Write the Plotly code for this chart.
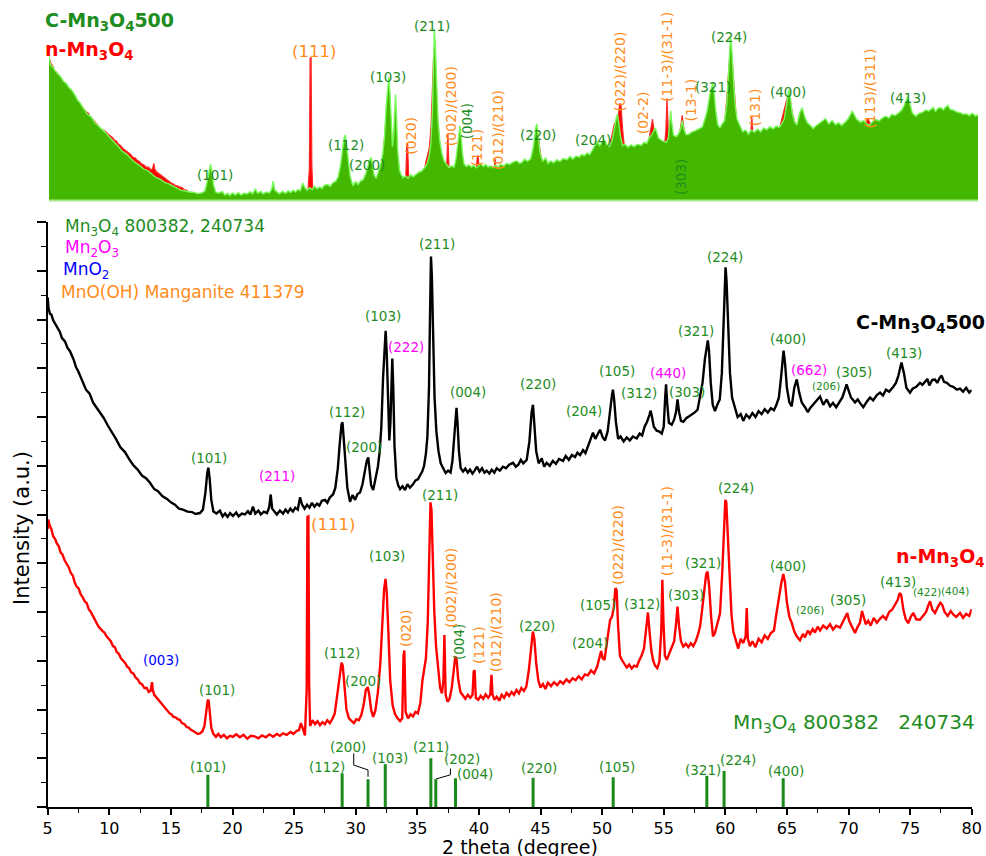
import plotly.graph_objects as go

# ---------------- data ----------------
# n-Mn3O4 pattern (main-plot intensity units)
n_x = [5.00,5.05,5.15,5.30,5.45,5.60,5.73,5.90,6.05,6.20,6.37,6.54,6.70,6.88,7.05,7.20,7.35,7.52,7.68,7.85,8.00,8.17,8.33,8.50,8.65,8.82,8.98,9.12,
       9.42,9.60,9.78,9.95,10.12,10.30,10.45,10.60,10.78,10.95,11.12,11.30,11.45,11.60,11.78,11.95,12.12,12.30,12.48,12.65,12.85,13.04,13.20,13.35,13.47,13.53,13.65,13.85,14.02,14.20,14.38,14.55,14.72,14.90,15.05,15.20,15.38,15.55,15.72,15.90,16.10,16.28,16.45,16.65,16.82,17.00,17.18,17.36,
       17.55,17.72,17.88,17.98,18.06,18.16,18.28,18.45,18.65,18.85,19.05,19.30,19.55,19.80,20.04,20.30,20.60,20.90,21.20,21.50,21.80,22.10,22.40,22.70,23.00,23.30,23.60,23.85,24.10,24.40,24.70,24.95,25.20,25.40,25.55,25.70,25.88,
       26.02,26.08,26.16,26.22,26.30,26.50,26.70,26.90,27.10,27.30,27.50,27.70,27.90,28.10,28.30,28.50,28.70,28.85,28.95,29.08,29.25,29.45,29.65,29.85,30.05,30.25,30.45,30.65,30.82,30.98,31.10,31.25,31.42,31.60,31.80,
       32.00,32.15,32.30,32.42,32.52,32.65,32.80,33.00,33.20,33.40,33.60,33.78,33.88,33.95,34.05,34.25,34.45,34.65,34.85,35.05,35.25,35.42,35.55,35.70,35.85,35.97,36.07,36.15,36.25,36.38,36.52,36.68,36.85,37.00,37.12,37.20,37.30,37.45,
       37.62,37.80,37.95,38.08,38.18,38.32,38.50,38.70,38.90,39.10,39.30,39.48,39.58,39.65,39.75,39.95,40.15,40.35,40.55,40.75,40.92,41.02,41.10,41.25,41.45,41.65,41.85,42.05,42.25,42.45,42.65,42.85,43.05,43.25,43.45,43.65,43.85,
       44.05,44.22,44.38,44.50,44.65,44.82,45.00,45.20,45.40,45.60,45.85,46.10,46.35,46.60,46.85,47.10,47.35,47.60,47.85,48.10,48.35,48.60,48.85,49.10,49.35,49.60,49.80,49.92,50.05,50.20,50.35,50.50,50.65,50.80,50.95,51.08,51.18,51.30,51.45,51.60,
       51.80,52.00,52.20,52.40,52.60,52.81,53.00,53.20,53.40,53.58,53.72,53.85,54.00,54.15,54.30,54.48,54.65,54.80,54.89,54.98,55.10,55.25,55.45,55.65,55.85,56.00,56.12,56.25,56.40,56.59,56.80,57.00,57.20,57.40,57.60,57.80,57.95,
       58.11,58.30,58.45,58.56,58.70,58.85,59.00,59.16,59.35,59.57,59.75,59.90,60.00,60.08,60.20,60.35,60.50,60.65,60.85,61.05,61.25,61.46,61.65,61.74,61.83,62.00,62.20,62.45,62.70,62.95,63.20,63.45,63.70,63.95,64.15,64.35,64.55,64.71,64.85,65.00,65.20,65.39,
       65.60,65.80,66.06,66.30,66.47,66.70,66.88,67.10,67.28,67.50,67.69,67.95,68.23,68.50,68.74,69.00,69.31,69.55,69.75,69.90,70.05,70.25,70.53,70.75,70.93,71.10,71.22,71.40,71.60,71.80,72.05,72.30,72.56,72.80,73.04,73.30,73.55,73.80,74.00,74.15,74.28,74.45,74.65,74.85,75.05,75.26,75.50,75.80,76.05,76.30,76.50,76.62,76.80,77.02,77.25,77.45,77.60,77.80,78.05,78.30,78.50,78.75,79.05,79.30,79.55,79.80,80.00]
n_y = [5.70,5.90,5.78,5.70,5.55,5.50,5.41,5.35,5.22,5.18,5.06,5.00,4.92,4.80,4.74,4.60,4.52,4.48,4.36,4.30,4.22,4.18,4.06,4.00,3.92,3.85,3.77,3.70,
       3.62,3.58,3.50,3.45,3.40,3.30,3.28,3.18,3.14,3.05,3.00,2.95,2.88,2.85,2.76,2.74,2.66,2.62,2.54,2.52,2.44,2.44,2.36,2.38,2.56,2.40,2.30,2.24,2.18,2.12,2.08,2.02,1.98,1.92,1.90,1.85,1.84,1.80,1.79,1.72,1.70,1.64,1.63,1.58,1.56,1.52,1.50,1.51,
       1.55,1.66,1.95,2.18,2.20,1.92,1.62,1.50,1.44,1.50,1.43,1.48,1.41,1.46,1.44,1.49,1.43,1.48,1.40,1.46,1.45,1.41,1.47,1.43,1.49,1.44,1.50,1.46,1.51,1.48,1.54,1.50,1.56,1.58,1.72,1.62,1.47,
       2.40,5.95,5.96,2.50,1.66,1.78,1.70,1.76,1.68,1.74,1.70,1.78,1.72,1.80,1.92,2.30,2.75,2.96,2.90,2.45,2.00,1.82,1.76,1.72,1.80,1.78,1.88,2.10,2.40,2.46,2.30,2.00,1.85,1.98,2.35,
       2.95,3.70,4.45,4.68,4.40,3.60,2.60,2.08,1.90,1.82,1.76,1.82,3.10,3.21,1.95,1.82,1.90,1.86,1.95,1.92,2.14,2.60,2.82,3.05,3.80,5.20,6.25,6.10,5.20,4.00,3.30,2.80,2.45,2.33,2.60,3.53,2.30,2.16,
       2.22,2.45,2.80,3.08,3.05,2.62,2.36,2.28,2.22,2.30,2.24,2.30,2.78,2.81,2.24,2.20,2.28,2.22,2.31,2.24,2.30,2.71,2.32,2.20,2.26,2.18,2.30,2.24,2.34,2.28,2.36,2.30,2.40,2.33,2.44,2.38,2.47,
       2.80,3.30,3.60,3.45,2.95,2.60,2.45,2.52,2.42,2.55,2.48,2.56,2.50,2.58,2.53,2.62,2.56,2.64,2.60,2.68,2.62,2.72,2.70,2.80,2.74,2.88,3.10,3.20,3.05,3.02,3.30,3.60,3.84,3.90,4.10,4.49,4.45,3.70,3.10,3.02,
       2.95,2.86,2.92,2.84,2.90,2.88,3.00,3.10,3.25,3.70,3.99,3.60,3.20,3.00,2.90,2.85,2.98,3.60,4.66,3.80,3.10,3.02,3.15,3.25,3.40,3.75,4.11,3.70,3.40,3.29,3.35,3.28,3.36,3.30,3.40,3.55,3.70,
       4.03,4.50,4.78,4.83,4.50,3.90,3.50,3.57,3.75,3.97,4.80,5.90,6.30,6.25,5.60,4.70,3.95,3.60,3.40,3.25,3.45,3.36,3.50,4.08,3.45,3.30,3.40,3.28,3.45,3.38,3.52,3.45,3.57,3.62,3.97,4.30,4.60,4.78,4.60,4.20,3.90,3.78,
       3.60,3.50,3.42,3.55,3.48,3.62,3.55,3.65,3.58,3.70,3.62,3.72,3.66,3.75,3.64,3.72,3.68,3.80,3.92,3.98,3.82,3.70,3.57,3.70,3.78,4.02,3.92,3.75,3.82,3.72,3.88,3.78,3.86,3.92,3.85,4.00,4.05,4.15,4.25,4.39,4.35,4.05,3.85,3.77,3.90,3.98,3.85,3.84,3.92,4.00,4.15,4.22,4.05,3.98,4.10,4.19,4.15,4.00,3.92,4.02,3.95,3.90,3.98,3.88,3.96,3.92,4.06]

# C-Mn3O4500 pattern, as stacked in the main plot (intensity + STACK_OFFSET)
STACK_OFFSET = 4.42
c_x = [5.00,5.06,5.18,5.30,5.45,5.59,5.80,5.98,6.16,6.40,6.60,6.81,7.10,7.30,7.46,7.75,7.95,8.11,8.40,8.55,8.68,9.00,9.25,9.55,9.89,10.20,10.54,10.90,11.27,11.60,11.92,12.30,12.65,13.00,13.30,13.65,13.95,14.30,14.68,15.00,15.33,15.65,15.98,16.35,16.71,17.00,17.36,
       17.60,17.80,17.95,18.04,18.14,18.28,18.45,18.70,18.98,19.20,19.40,19.60,19.80,20.04,20.30,20.50,20.75,21.01,21.25,21.45,21.66,21.85,22.10,22.30,22.55,22.80,22.98,23.10,23.22,23.40,23.60,23.85,24.10,24.30,24.50,24.70,24.90,25.10,25.30,25.48,25.65,25.85,26.05,26.25,26.45,26.65,26.86,27.05,27.25,27.51,27.70,27.90,28.16,
       28.35,28.55,28.72,28.85,28.93,29.02,29.15,29.32,29.54,29.75,29.95,30.15,30.35,30.55,30.75,30.90,31.02,31.12,31.25,31.42,31.60,31.80,31.95,32.08,32.22,32.35,32.43,32.52,32.63,32.73,32.82,32.90,32.97,33.05,33.15,33.30,33.45,33.60,
       33.80,34.00,34.20,34.40,34.65,34.85,35.05,35.22,35.40,35.55,35.70,35.82,35.95,36.04,36.11,36.18,36.28,36.40,36.55,36.72,36.90,37.10,37.30,37.50,37.70,37.85,37.98,38.10,38.18,38.26,38.38,38.52,38.71,38.90,39.10,39.28,39.48,39.65,39.85,40.05,40.25,40.45,40.63,40.85,41.04,41.25,41.45,41.70,41.95,
       42.20,42.45,42.77,43.00,43.20,43.40,43.60,43.88,44.10,44.28,44.39,44.50,44.65,44.85,45.10,45.30,45.50,45.75,46.00,46.25,46.50,46.83,47.05,47.30,47.55,47.80,48.00,48.21,48.45,48.65,48.86,49.05,49.26,49.45,49.60,49.83,50.05,50.24,50.45,50.62,
       50.80,50.88,50.98,51.12,51.30,51.50,51.75,52.00,52.25,52.50,52.81,53.05,53.25,53.45,53.65,53.85,53.94,54.05,54.20,54.43,54.65,54.84,55.00,55.12,55.19,55.28,55.42,55.65,55.85,56.00,56.12,56.25,56.40,56.59,56.85,57.10,57.35,57.55,57.75,57.95,
       58.15,58.35,58.50,58.58,58.68,58.82,58.98,59.16,59.35,59.55,59.72,59.85,59.95,60.02,60.10,60.22,60.38,60.55,60.75,61.00,61.25,61.46,61.70,61.95,62.20,62.45,62.70,62.95,63.20,63.45,63.70,63.95,64.15,64.35,64.52,64.65,64.73,64.85,65.00,65.20,
       65.39,65.60,65.80,66.00,66.20,66.47,66.70,66.88,67.10,67.28,67.50,67.69,67.95,68.23,68.50,68.74,69.00,69.25,69.50,69.70,69.84,70.00,70.20,70.53,70.75,70.93,71.20,71.50,71.75,72.00,72.30,72.56,72.80,73.04,73.30,73.64,73.85,74.05,74.20,74.30,74.50,74.70,74.99,75.20,75.50,75.80,76.00,76.21,76.40,76.56,76.80,77.02,77.20,77.40,77.56,77.75,77.99,78.25,78.50,78.80,79.05,79.30,79.55,79.80,80.00]
c_stacked = [10.45,10.24,10.12,10.10,9.98,9.92,9.82,9.75,9.62,9.55,9.42,9.35,9.18,9.02,8.95,8.78,8.68,8.56,8.48,8.36,8.30,8.18,8.10,7.98,7.82,7.70,7.55,7.38,7.28,7.14,7.02,6.92,6.80,6.74,6.65,6.52,6.48,6.38,6.32,6.25,6.20,6.12,6.10,6.06,6.05,6.01,6.03,
       6.10,6.45,6.85,6.96,6.75,6.30,6.06,6.02,6.08,5.96,6.02,5.95,6.03,5.97,6.04,5.96,6.02,6.00,6.07,6.00,6.16,6.02,6.08,6.00,6.06,6.03,6.15,6.41,6.12,6.06,6.00,6.08,6.02,6.10,6.04,6.12,6.06,6.14,6.10,6.35,6.20,6.12,6.20,6.14,6.24,6.16,6.22,6.18,6.28,6.30,6.24,6.35,6.41,
       6.55,6.95,7.50,7.85,7.89,7.60,7.00,6.55,6.26,6.40,6.30,6.42,6.45,6.62,6.90,7.10,7.17,6.95,6.60,6.50,6.72,6.98,7.30,7.80,8.80,9.60,9.77,9.30,8.10,7.52,7.90,8.90,9.20,8.60,7.40,6.75,6.60,6.52,
       6.58,6.50,6.62,6.55,6.62,6.70,6.72,6.80,6.88,7.00,7.25,7.60,8.60,10.20,11.29,10.90,9.60,8.40,7.70,7.30,7.05,6.95,6.85,6.90,6.86,7.10,7.60,8.05,8.19,7.90,7.30,6.95,6.88,6.94,6.86,6.92,6.84,6.90,6.98,6.88,6.95,6.86,6.90,6.84,6.92,6.86,6.95,6.90,6.98,
       6.95,7.02,7.06,6.98,7.02,7.12,7.05,7.12,7.50,8.10,8.25,7.80,7.30,7.05,7.15,6.98,7.06,7.00,7.10,7.04,7.14,7.10,7.20,7.12,7.22,7.18,7.27,7.22,7.32,7.26,7.40,7.55,7.68,7.55,7.62,7.74,7.58,7.52,7.70,8.10,
       8.45,8.56,8.35,7.90,7.55,7.60,7.50,7.58,7.52,7.60,7.56,7.66,7.62,7.80,7.90,8.05,8.13,8.00,7.80,7.72,7.70,7.66,7.80,8.40,8.67,8.30,7.88,7.84,7.95,8.10,8.36,8.10,7.92,7.90,7.98,8.02,8.06,8.10,8.15,8.40,
       8.70,9.20,9.52,9.57,9.35,8.70,8.25,8.12,8.25,8.36,8.90,10.00,10.90,11.07,10.80,9.90,8.90,8.40,8.20,8.00,8.06,7.92,8.05,7.98,8.08,8.00,8.12,8.06,8.16,8.09,8.18,8.14,8.25,8.40,8.80,9.20,9.36,9.10,8.60,8.30,
       8.22,8.60,8.77,8.50,8.30,8.20,8.10,8.18,8.25,8.30,8.38,8.42,8.25,8.36,8.22,8.29,8.20,8.30,8.40,8.55,8.67,8.55,8.40,8.30,8.36,8.29,8.20,8.32,8.40,8.34,8.45,8.50,8.44,8.56,8.52,8.62,8.70,8.85,9.05,9.12,8.90,8.60,8.50,8.58,8.62,8.70,8.66,8.72,8.78,8.65,8.76,8.77,8.70,8.80,8.85,8.72,8.70,8.64,8.62,8.56,8.58,8.52,8.60,8.50,8.55]
assert len(n_x) == len(n_y), (len(n_x), len(n_y))
assert len(c_x) == len(c_stacked), (len(c_x), len(c_stacked))
c_intensity = [v - STACK_OFFSET for v in c_stacked]

# Mn3O4 reference (800382 / 240734) stick pattern
ref_2theta = [18.0, 28.9, 31.0, 32.4, 36.1, 36.5, 38.1, 44.4, 50.9, 58.5, 59.9, 64.7]
ref_height = [0.66, 0.69, 0.57, 0.88, 1.00, 0.57, 0.59, 0.60, 0.61, 0.64, 0.74, 0.59]
ref_hkl = ["(101)", "(112)", "(200)", "(103)", "(211)", "(202)", "(004)", "(220)", "(105)", "(321)", "(224)", "(400)"]
ref_label_x = [18.0, 27.70, 29.35, 32.78, 36.09, 38.60, 39.68, 44.90, 51.18, 58.17, 61.06, 64.93]
ref_label_y = [0.82, 0.83, 1.24, 1.01, 1.24, 0.98, 0.68, 0.79, 0.83, 0.76, 0.97, 0.74]

# peak labels: (text, 2theta, y, colour key, size key, rotated)
c_labels = [("(101)", 18.12, 7.15, "g", "m", False), ("(211)", 23.59, 6.80, "p", "m", False),
            ("(112)", 29.27, 8.10, "g", "m", False), ("(200)", 30.67, 7.39, "g", "m", False),
            ("(103)", 32.24, 10.07, "g", "m", False), ("(222)", 34.08, 9.43, "p", "m", False),
            ("(211)", 36.57, 11.55, "g", "m", False), ("(004)", 39.14, 8.52, "g", "m", False),
            ("(220)", 44.82, 8.68, "g", "m", False), ("(204)", 48.53, 8.12, "g", "m", False),
            ("(105)", 51.18, 8.95, "g", "m", False), ("(312)", 53.02, 8.49, "g", "m", False),
            ("(440)", 55.32, 8.91, "p", "m", False), ("(303)", 56.87, 8.51, "g", "m", False),
            ("(321)", 57.62, 9.77, "g", "m", False), ("(224)", 60.00, 11.29, "g", "m", False),
            ("(400)", 65.11, 9.59, "g", "m", False), ("(662)", 66.79, 8.97, "p", "m", False),
            ("(206)", 68.17, 8.63, "g", "s", False), ("(305)", 70.44, 8.92, "g", "m", False),
            ("(413)", 74.50, 9.32, "g", "m", False)]
n_labels = [("(003)", 14.20, 3.02, "b", "m", False), ("(101)", 18.72, 2.40, "g", "m", False),
            ("(111)", 28.13, 5.80, "o", "l", False), ("(112)", 28.91, 3.16, "g", "m", False),
            ("(200)", 30.62, 2.59, "g", "m", False), ("(103)", 32.56, 5.14, "g", "m", False),
            ("(020)", 34.08, 3.67, "o", "r", True), ("(211)", 36.84, 6.39, "g", "m", False),
            ("(002)/(200)", 37.71, 4.49, "o", "r", True), ("(004)", 38.33, 3.39, "g", "m", True),
            ("(121)", 39.95, 3.33, "o", "r", True), ("(012)/(210)", 41.45, 3.58, "o", "r", True),
            ("(220)", 44.74, 3.72, "g", "m", False), ("(204)", 49.02, 3.36, "g", "m", False),
            ("(105)", 49.69, 4.15, "g", "m", False), ("(022)/(220)", 51.23, 5.38, "o", "r", True),
            ("(312)", 53.26, 4.17, "g", "m", False), ("(11-3)/(31-1)", 55.24, 5.65, "o", "r", True),
            ("(303)", 56.79, 4.34, "g", "m", False), ("(321)", 58.17, 5.00, "g", "m", False),
            ("(224)", 60.87, 6.54, "g", "m", False), ("(400)", 65.06, 4.95, "g", "m", False),
            ("(206)", 66.88, 4.05, "g", "s", False), ("(305)", 69.94, 4.24, "g", "m", False),
            ("(413)", 74.00, 4.61, "g", "m", False), ("(422)", 76.35, 4.42, "g", "s", False),
            ("(404)", 78.64, 4.44, "g", "s", False)]
inset_labels = [("(101)", 18.40, 2.19, "g", "m", False), ("(111)", 26.41, 6.16, "o", "l", False),
                ("(112)", 28.97, 3.15, "g", "m", False), ("(200)", 30.64, 2.51, "g", "m", False),
                ("(103)", 32.34, 5.35, "g", "m", False), ("(020)", 34.27, 3.44, "o", "r", True),
                ("(211)", 35.89, 6.99, "g", "m", False), ("(002)/(200)", 37.42, 4.39, "o", "r", True),
                ("(004)", 38.71, 3.90, "g", "m", True), ("(121)", 39.52, 3.06, "o", "r", True),
                ("(012)/(210)", 41.26, 3.64, "o", "r", True), ("(220)", 44.49, 3.48, "g", "m", False),
                ("(204)", 48.93, 3.31, "g", "m", False), ("(022)/(220)", 51.09, 5.51, "o", "r", True),
                ("(02-2)", 53.02, 4.20, "o", "r", True), ("(11-3)/(31-1)", 54.90, 5.99, "o", "r", True),
                ("(303)", 56.07, 2.11, "g", "m", True), ("(13-1)", 56.87, 4.60, "o", "r", True),
                ("(321)", 58.62, 5.01, "g", "m", False), ("(224)", 59.91, 6.62, "g", "m", False),
                ("(131)", 61.98, 4.36, "o", "r", True), ("(400)", 64.67, 4.85, "g", "m", False),
                ("(113)/(311)", 71.26, 4.96, "o", "r", True), ("(413)", 74.35, 4.66, "g", "m", False)]

# ---------------- styling ----------------
FONT = "DejaVu Sans"
W, H = 986, 856
GREEN = "#1e8c1e"
COLORS = {"g": GREEN, "p": "#ff00ff", "b": "#0000ff", "o": "#ff8c1a"}
SIZES = {"m": 13.5, "s": 10.5, "l": 16.5, "r": 14}


def px_x(p):
    return p / W


def px_y(p):
    return (H - p) / H


fig = go.Figure()

# inset (filled patterns, no stacking)
fig.add_trace(go.Scatter(x=n_x, y=n_y, xaxis="x2", yaxis="y2", mode="lines",
                         line=dict(color="#ff2a2a", width=1.2), fill="tozeroy",
                         fillcolor="#ff0000", hoverinfo="skip"))
fig.add_trace(go.Scatter(x=c_x, y=c_intensity, xaxis="x2", yaxis="y2", mode="lines",
                         line=dict(color="rgba(120,250,90,1)", width=1.4), fill="tozeroy",
                         fillcolor="rgb(68,184,0)", hoverinfo="skip"))

# main stacked patterns
fig.add_trace(go.Scatter(x=c_x, y=c_stacked, mode="lines",
                         line=dict(color="black", width=2.4), hoverinfo="skip"))
fig.add_trace(go.Scatter(x=n_x, y=n_y, mode="lines",
                         line=dict(color="#ff0000", width=2.4), hoverinfo="skip"))

# reference sticks
sx, sy = [], []
for t, h in zip(ref_2theta, ref_height):
    sx += [t, t, None]
    sy += [0, h, None]
fig.add_trace(go.Scatter(x=sx, y=sy, mode="lines", line=dict(color="#1a8a1a", width=3),
                         hoverinfo="skip"))

# leader lines for crowded stick labels
fig.add_trace(go.Scatter(x=[29.84, 29.84, 31.0, 31.0, None, 37.69, 37.69, 36.52],
                         y=[1.10, 0.86, 0.76, 0.62, None, 0.79, 0.66, 0.575],
                         mode="lines", line=dict(color="black", width=1), hoverinfo="skip"))

ann = []


def add_label(text, x, y, color, size, rot=False, xref="x", yref="y", xanchor="center", bold=False):
    if bold:
        text = "<b>" + text + "</b>"
    ann.append(dict(text=text, x=x, y=y, xref=xref, yref=yref, showarrow=False,
                    xanchor=xanchor, yanchor="middle", textangle=-90 if rot else 0,
                    font=dict(family=FONT, size=size, color=color)))


for lbl in c_labels + n_labels:
    add_label(lbl[0], lbl[1], lbl[2], COLORS[lbl[3]], SIZES[lbl[4]], lbl[5])
for lbl in inset_labels:
    add_label(lbl[0], lbl[1], lbl[2], COLORS[lbl[3]], SIZES[lbl[4]], lbl[5], xref="x2", yref="y2")
for t, lx, ly in zip(ref_hkl, ref_label_x, ref_label_y):
    add_label(t, lx, ly, GREEN, 13.5)

# legend-like texts
add_label("Mn<sub>3</sub>O<sub>4</sub> 800382, 240734", px_x(63), px_y(228), GREEN, 17, xref="paper", yref="paper", xanchor="left")
add_label("Mn<sub>2</sub>O<sub>3</sub>", px_x(63), px_y(248), "#ff00ff", 17, xref="paper", yref="paper", xanchor="left")
add_label("MnO<sub>2</sub>", px_x(61), px_y(270), "#0000ff", 17, xref="paper", yref="paper", xanchor="left")
add_label("MnO(OH) Manganite 411379", px_x(59), px_y(292), "#ff8c1a", 17, xref="paper", yref="paper", xanchor="left")

add_label("C-Mn<sub>3</sub>O<sub>4</sub>500", px_x(854), px_y(323), "black", 19, xref="paper", yref="paper", xanchor="left", bold=True)
add_label("n-Mn<sub>3</sub>O<sub>4</sub>", px_x(894), px_y(557), "#ff0000", 19, xref="paper", yref="paper", xanchor="left", bold=True)
add_label("Mn<sub>3</sub>O<sub>4</sub> 800382\u00a0\u00a0\u00a0240734", px_x(731), px_y(723), GREEN, 20, xref="paper", yref="paper", xanchor="left")

add_label("C-Mn<sub>3</sub>O<sub>4</sub>500", px_x(43), px_y(22), GREEN, 19, xref="paper", yref="paper", xanchor="left", bold=True)
add_label("n-Mn<sub>3</sub>O<sub>4</sub>", px_x(43), px_y(50), "#ff0000", 19, xref="paper", yref="paper", xanchor="left", bold=True)

# axis titles
add_label("2 theta (degree)", px_x(520), px_y(846.5), "black", 19, xref="paper", yref="paper")
add_label("Intensity (a.u.)", px_x(22), px_y(528), "black", 21, rot=True, xref="paper", yref="paper")

fig.update_layout(
    width=W, height=H, margin=dict(l=0, r=0, t=0, b=0, autoexpand=False),
    paper_bgcolor="white", plot_bgcolor="white", showlegend=False,
    font=dict(family=FONT, color="black"),
    xaxis=dict(domain=[47.7 / W, 971.7 / W], range=[5, 80], tickmode="linear", tick0=5, dtick=5,
               ticks="outside", ticklen=6, tickwidth=1.5, tickcolor="black", automargin=False,
               showline=True, linecolor="black", linewidth=1.5, showgrid=False, zeroline=False,
               minor=dict(ticks="outside", ticklen=4, tickwidth=1.2, tickcolor="black", dtick=2.5, tick0=5),
               tickfont=dict(family=FONT, size=16, color="black"), anchor="y"),
    yaxis=dict(domain=[px_y(807), px_y(222)], range=[0, 12], tickmode="linear", tick0=0, dtick=1,
               ticks="outside", ticklen=9, tickwidth=1.5, tickcolor="black", showticklabels=False,
               showline=True, linecolor="black", linewidth=1.5, showgrid=False, zeroline=False,
               automargin=False,
               minor=dict(ticks="outside", ticklen=5, tickwidth=1.2, tickcolor="black", dtick=0.5, tick0=0),
               anchor="x"),
    xaxis2=dict(domain=[49 / W, 978 / W], range=[5, 80], visible=False, anchor="y2", automargin=False),
    yaxis2=dict(domain=[px_y(200), 1.0], range=[1.383, 7.82], visible=False, anchor="x2", automargin=False),
    annotations=ann,
    shapes=[dict(type="line", xref="paper", yref="paper", x0=49 / W, x1=978 / W,
                 y0=px_y(200.5), y1=px_y(200.5), line=dict(color="#a8e890", width=2))],
)

fig.write_html("out.html")
